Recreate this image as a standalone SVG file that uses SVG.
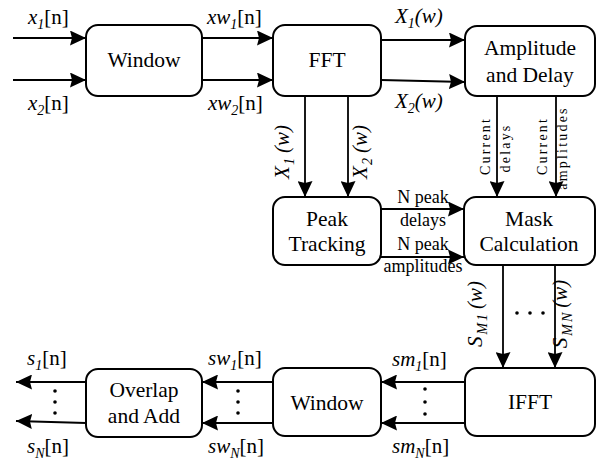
<svg xmlns="http://www.w3.org/2000/svg" width="598" height="466" viewBox="0 0 598 466" font-family="'Liberation Serif', 'Times New Roman', serif">
<style>
text{font-family:'Liberation Serif','Times New Roman',serif;fill:#000}
.box{fill:#fff;stroke:#000;stroke-width:2}
.nt{font-size:21.5px;text-anchor:middle}
.lb{font-size:21px}
.sm{font-size:18px;text-anchor:middle}
.rt{font-size:14px;text-anchor:middle;letter-spacing:2.2px}
.it{font-style:italic}
.sub{font-style:italic;font-size:14px}
.ln{stroke:#000;stroke-width:1.8;fill:none;marker-end:url(#ah)}
.dot{fill:#000}
</style>
<defs>
<marker id="ah" markerUnits="userSpaceOnUse" markerWidth="16" markerHeight="15" refX="16" refY="7.5" orient="auto">
<path d="M0,0 L16,7.5 L0,15 L2,7.5 z" fill="#000"/>
</marker>
</defs>
<g id="connectors">
<line class="ln" x1="13" y1="38" x2="86" y2="38"/>
<line class="ln" x1="13" y1="80" x2="86" y2="80"/>
<line class="ln" x1="202" y1="38" x2="273" y2="38"/>
<line class="ln" x1="202" y1="80" x2="273" y2="80"/>
<line class="ln" x1="381" y1="40" x2="465" y2="40"/>
<line class="ln" x1="381" y1="80" x2="465" y2="82"/>
<line class="ln" x1="305" y1="96" x2="305" y2="197"/>
<line class="ln" x1="348" y1="96" x2="348" y2="197"/>
<line class="ln" x1="497" y1="96" x2="497" y2="197"/>
<line class="ln" x1="556" y1="96" x2="556" y2="197"/>
<line class="ln" x1="381" y1="209" x2="464" y2="209"/>
<line class="ln" x1="381" y1="257" x2="464" y2="257"/>
<line class="ln" x1="503" y1="265" x2="503" y2="368"/>
<line class="ln" x1="555" y1="265" x2="555" y2="368"/>
<line class="ln" x1="465" y1="382" x2="381" y2="382"/>
<line class="ln" x1="465" y1="423" x2="381" y2="423"/>
<line class="ln" x1="273" y1="382" x2="202" y2="382"/>
<line class="ln" x1="273" y1="423" x2="202" y2="423"/>
<line class="ln" x1="86" y1="382" x2="16" y2="382"/>
<line class="ln" x1="86" y1="423" x2="16" y2="421"/>
<circle class="dot" cx="517" cy="313" r="1.8"/>
<circle class="dot" cx="530" cy="313" r="1.8"/>
<circle class="dot" cx="543" cy="313" r="1.8"/>
<circle class="dot" cx="425" cy="389" r="1.8"/>
<circle class="dot" cx="425" cy="402" r="1.8"/>
<circle class="dot" cx="425" cy="414" r="1.8"/>
<circle class="dot" cx="238" cy="391" r="1.8"/>
<circle class="dot" cx="238" cy="402" r="1.8"/>
<circle class="dot" cx="238" cy="413" r="1.8"/>
<circle class="dot" cx="55" cy="391" r="1.8"/>
<circle class="dot" cx="55" cy="402" r="1.8"/>
<circle class="dot" cx="55" cy="413" r="1.8"/>
<text class="lb" x="28" y="24"><tspan class="it">x</tspan><tspan class="sub" dy="5">1</tspan><tspan dy="-5">[n]</tspan></text>
<text class="lb" x="28" y="110"><tspan class="it">x</tspan><tspan class="sub" dy="5">2</tspan><tspan dy="-5">[n]</tspan></text>
<text class="lb" x="207" y="24"><tspan class="it">xw</tspan><tspan class="sub" dy="5">1</tspan><tspan dy="-5">[n]</tspan></text>
<text class="lb" x="208" y="110"><tspan class="it">xw</tspan><tspan class="sub" dy="5">2</tspan><tspan dy="-5">[n]</tspan></text>
<text class="lb it" x="395" y="23">X<tspan class="sub" dy="5">1</tspan><tspan dy="-5">(w)</tspan></text>
<text class="lb it" x="395" y="108">X<tspan class="sub" dy="5">2</tspan><tspan dy="-5">(w)</tspan></text>
<text class="lb it" text-anchor="middle" transform="translate(289,152) rotate(-90)">X<tspan class="sub" dy="5" dx="1">1</tspan><tspan dy="-5" dx="5">(w)</tspan></text>
<text class="lb it" text-anchor="middle" transform="translate(367,152) rotate(-90)">X<tspan class="sub" dy="5" dx="1">2</tspan><tspan dy="-5" dx="5">(w)</tspan></text>
<text class="rt" transform="translate(490,146) rotate(-90)">Current</text>
<text class="rt" transform="translate(510,148) rotate(-90)">delays</text>
<text class="rt" transform="translate(547,146) rotate(-90)">Current</text>
<text class="rt" transform="translate(567,148) rotate(-90)">amplitudes</text>
<text class="sm" x="423" y="203">N peak</text>
<text class="sm" x="423" y="226">delays</text>
<text class="sm" x="423" y="250">N peak</text>
<text class="sm" x="423" y="272">amplitudes</text>
<text class="lb it" text-anchor="middle" transform="translate(482,314) rotate(-90)">S<tspan class="sub" dy="5" dx="2" letter-spacing="2">M1</tspan><tspan dy="-5" dx="3">(w)</tspan></text>
<text class="lb it" text-anchor="middle" transform="translate(567,314) rotate(-90)">S<tspan class="sub" dy="5" dx="2" letter-spacing="2">MN</tspan><tspan dy="-5" dx="3">(w)</tspan></text>
<text class="lb" x="392" y="366"><tspan class="it">sm</tspan><tspan class="sub" dy="5">1</tspan><tspan dy="-5">[n]</tspan></text>
<text class="lb" x="392" y="453"><tspan class="it">sm</tspan><tspan class="sub" dy="5">N</tspan><tspan dy="-5">[n]</tspan></text>
<text class="lb" x="208" y="365"><tspan class="it">sw</tspan><tspan class="sub" dy="5">1</tspan><tspan dy="-5">[n]</tspan></text>
<text class="lb" x="208" y="453"><tspan class="it">sw</tspan><tspan class="sub" dy="5">N</tspan><tspan dy="-5">[n]</tspan></text>
<text class="lb" x="27" y="365"><tspan class="it">s</tspan><tspan class="sub" dy="5">1</tspan><tspan dy="-5">[n]</tspan></text>
<text class="lb" x="27" y="453"><tspan class="it">s</tspan><tspan class="sub" dy="5">N</tspan><tspan dy="-5">[n]</tspan></text>
</g>
<g id="window1"><rect class="box" x="86" y="25" width="116" height="71" rx="12"/><text class="nt" x="144" y="67">Window</text></g>
<g id="fft"><rect class="box" x="273" y="25" width="108" height="71" rx="12"/><text class="nt" x="327" y="67">FFT</text></g>
<g id="amplitude"><rect class="box" x="465" y="26" width="130" height="70" rx="12"/><text class="nt" x="530" y="55">Amplitude</text><text class="nt" x="530" y="82">and Delay</text></g>
<g id="peak"><rect class="box" x="273" y="197" width="108" height="68" rx="12"/><text class="nt" x="327" y="226">Peak</text><text class="nt" x="327" y="251">Tracking</text></g>
<g id="mask"><rect class="box" x="464" y="197" width="131" height="68" rx="12"/><text class="nt" x="529" y="226">Mask</text><text class="nt" x="529" y="251">Calculation</text></g>
<g id="ifft"><rect class="box" x="465" y="368" width="130" height="68" rx="12"/><text class="nt" x="530" y="409">IFFT</text></g>
<g id="window2"><rect class="box" x="273" y="368" width="108" height="68" rx="12"/><text class="nt" x="327" y="410">Window</text></g>
<g id="overlap"><rect class="box" x="86" y="369" width="116" height="68" rx="12"/><text class="nt" x="144" y="397">Overlap</text><text class="nt" x="144" y="423">and Add</text></g>
</svg>
